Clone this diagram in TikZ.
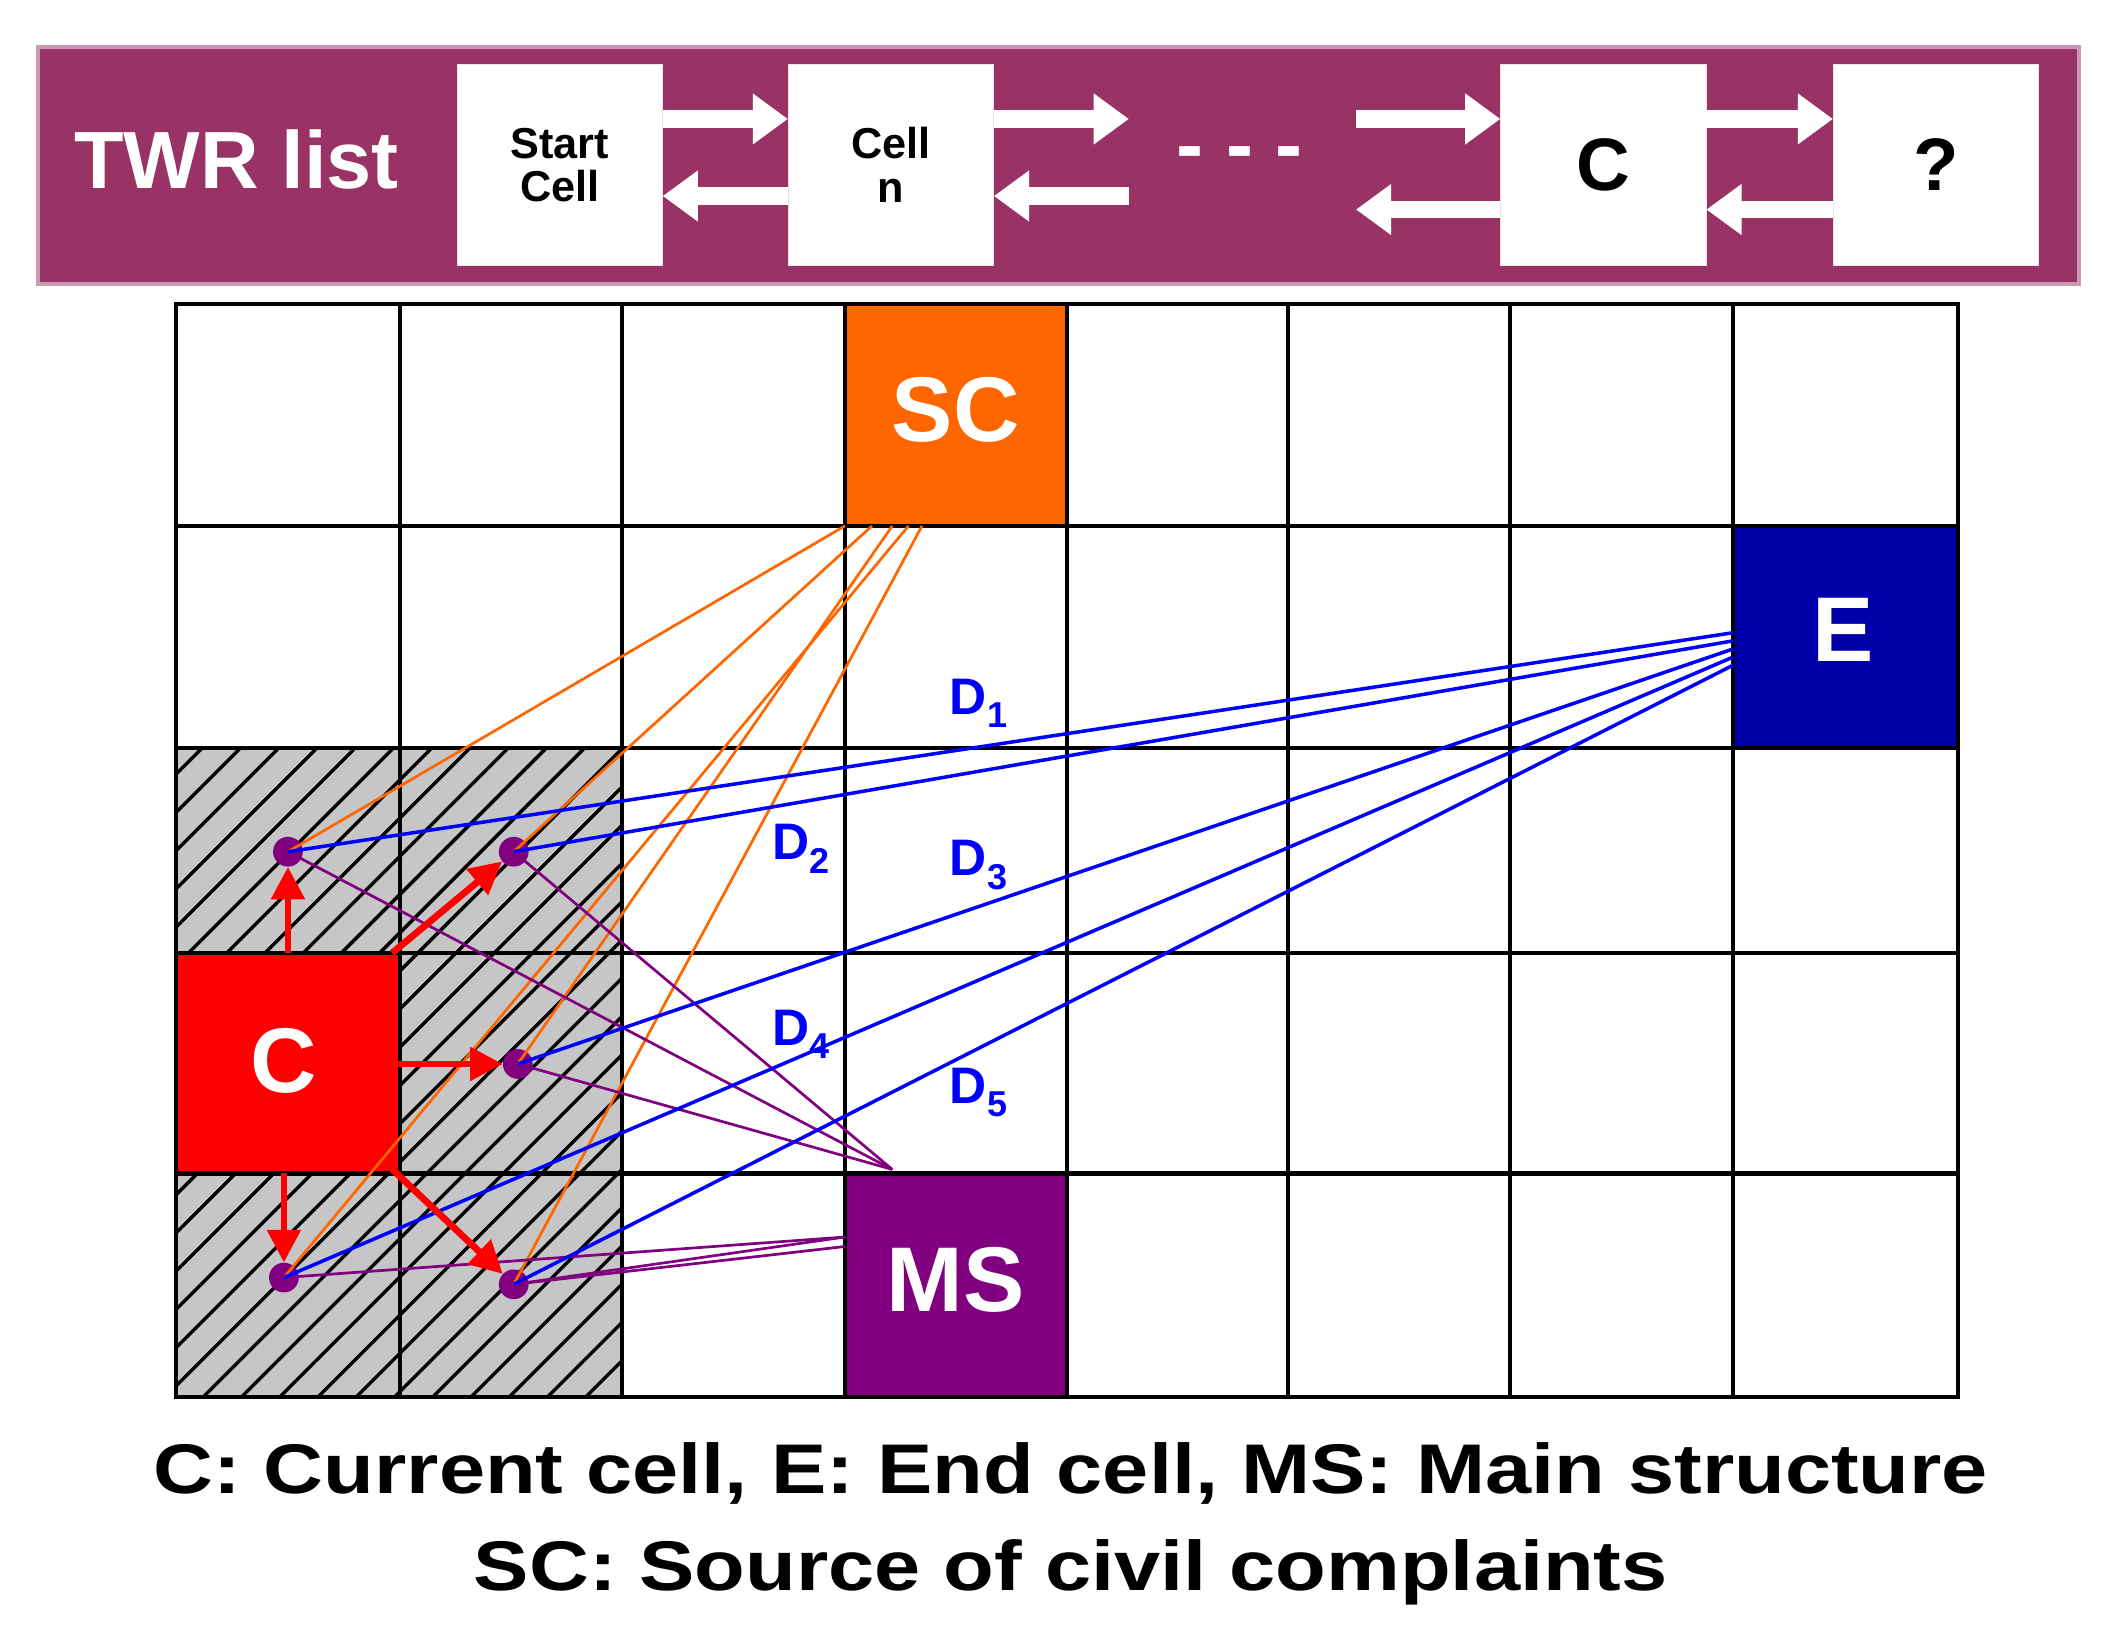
\documentclass[tikz,border=0pt]{standalone}
\usepackage{fontspec}
\setmainfont{Liberation Sans}
\usetikzlibrary{patterns.meta,arrows.meta}
\definecolor{maroon}{HTML}{993366}
\definecolor{scor}{HTML}{FF6600}
\definecolor{eblue}{HTML}{0000AA}
\definecolor{mspur}{HTML}{800080}
\tikzset{
  fs/.style={font=\bfseries\fontsize{#1}{#1}\selectfont},
  listbox/.style={fill=white,draw=white!85!maroon,minimum width=152pt,minimum height=149pt,inner sep=0pt,align=center},
  wa/.style={white,line width=13pt,-{Triangle[length=26pt,width=36pt]}},
  dot/.style={circle,fill=mspur,minimum size=22pt,inner sep=0pt},
  ra/.style={red,line width=5pt,-{Triangle[length=24pt,width=24pt]}},
  ol/.style={scor,line width=2pt},
  bl/.style={blue,line width=2.6pt},
  pl/.style={mspur,line width=2pt},
  dl/.style={text=blue,fs=38},
  capt/.style={fs=52,xscale=1.18,transform shape}
}
\begin{document}
\begin{tikzpicture}[x=1pt,y=-1pt]
\useasboundingbox (0,0) rectangle (1560,1212);
\fill[white] (0,0) rectangle (1560,1212);
% banner
\draw[fill=maroon,draw=maroon!50!white,line width=3pt] (28,35) rectangle (1538,210);
\node[white,fs=60] (twr) at (175,118) {TWR list};
\node[listbox,fs=32] (b1) at (414,122) {Start\\Cell};
\node[listbox,fs=32] (b2) at (659,122) {Cell\\n};
\node[listbox,fs=55] (b3) at (1186,122) {C};
\node[listbox,fs=55] (b4) at (1432,122) {?};
\node[white,fs=60] (dots) at (917,118) {- - -};
\coordinate (r1a) at (835,88); \coordinate (l1a) at (835,145);
\coordinate (r2a) at (1003,88); \coordinate (l2a) at (1003,155);
\draw[wa] (b1.east|-0,88) -- (b2.west|-0,88);
\draw[wa] (b2.west|-0,145) -- (b1.east|-0,145);
\draw[wa] (b2.east|-0,88) -- (r1a);
\draw[wa] (l1a) -- (b2.east|-0,145);
\draw[wa] (r2a) -- (b3.west|-0,88);
\draw[wa] (b3.west|-0,155) -- (l2a);
\draw[wa] (b3.east|-0,88) -- (b4.west|-0,88);
\draw[wa] (b4.west|-0,155) -- (b3.east|-0,155);
% special cells
\foreach \x/\y/\h in {130/553/152,296/553/152,296/705/163,130/868/165,296/868/165}{
  \fill[gray!45] (\x,\y) rectangle ++(165,\h);
  \fill[pattern={Lines[angle=45,distance=20pt,line width=2.5pt]},pattern color=black] (\x,\y) rectangle ++(165,\h);
}
\fill[scor] (625,225) rectangle (789,389);
\node[white,fs=68] (sc) at (707,303) {SC};
\fill[eblue] (1282,389) rectangle (1448,553);
\node[white,fs=68] (e) at (1363,466) {E};
\fill[red] (130,705) rectangle (296,868);
\node[white,fs=68] (c) at (210,785) {C};
\fill[mspur] (625,868) rectangle (789,1033);
\node[white,fs=68] (ms) at (707,947) {MS};
% grid
\draw[line width=3pt] (130,225) rectangle (1448,1033);
\foreach \x in {296,460,625,789,953,1117,1282} \draw[line width=3pt] (\x,225) -- (\x,1033);
\foreach \y in {389,553,705,868} \draw[line width=3pt] (130,\y) -- (1448,\y);
% dots
\node[dot] (p1) at (213,630) {};
\node[dot] (p2) at (380,630) {};
\node[dot] (p3) at (383,787) {};
\node[dot] (p4) at (210,945) {};
\node[dot] (p5) at (380,950) {};
% orange lines
\coordinate (s1) at (625,389); \coordinate (s2) at (645,389);
\coordinate (s3) at (660,389); \coordinate (s4) at (672,389); \coordinate (s5) at (682,389);
\draw[ol] (s1) -- (p1.center); \draw[ol] (s2) -- (p2.center);
\draw[ol] (s3) -- (p3.center); \draw[ol] (s4) -- (p4.center); \draw[ol] (s5) -- (p5.center);
% purple lines
\coordinate (m1) at (660,865); \coordinate (m2) at (625,915); \coordinate (m3) at (625,922);
\draw[pl] (m1) -- (p1.center); \draw[pl] (m1) -- (p2.center); \draw[pl] (m1) -- (p3.center);
\draw[pl] (m2) -- (p4.center); \draw[pl] (m3) -- (p5.center); \draw[pl] (m2) -- (p5.center);
% blue lines
\coordinate (e1) at (1282,468); \coordinate (e2) at (1282,474);
\coordinate (e3) at (1282,480); \coordinate (e4) at (1282,486); \coordinate (e5) at (1282,492);
\draw[bl] (e1) -- (p1.center); \draw[bl] (e2) -- (p2.center); \draw[bl] (e3) -- (p3.center);
\draw[bl] (e4) -- (p4.center); \draw[bl] (e5) -- (p5.center);
\node[dl] (d1) at (724,520) {D\textsubscript{1}};
\node[dl] (d2) at (593,628) {D\textsubscript{2}};
\node[dl] (d3) at (724,640) {D\textsubscript{3}};
\node[dl] (d4) at (593,765) {D\textsubscript{4}};
\node[dl] (d5) at (724,808) {D\textsubscript{5}};
% red arrows
\coordinate (c1) at (213,705); \coordinate (c2) at (290,705); \coordinate (c3) at (290,787);
\coordinate (c4) at (210,868); \coordinate (c5) at (285,860);
\draw[ra] (c1) -- (p1); \draw[ra] (c2) -- (p2); \draw[ra] (c3) -- (p3);
\draw[ra] (c4) -- (p4); \draw[ra] (c5) -- (p5);
% caption
\node[capt] (cap1) at (792,1090) {C: Current cell, E: End cell, MS: Main structure};
\node[capt] (cap2) at (792,1163) {SC: Source of civil complaints};
\end{tikzpicture}
\end{document}
